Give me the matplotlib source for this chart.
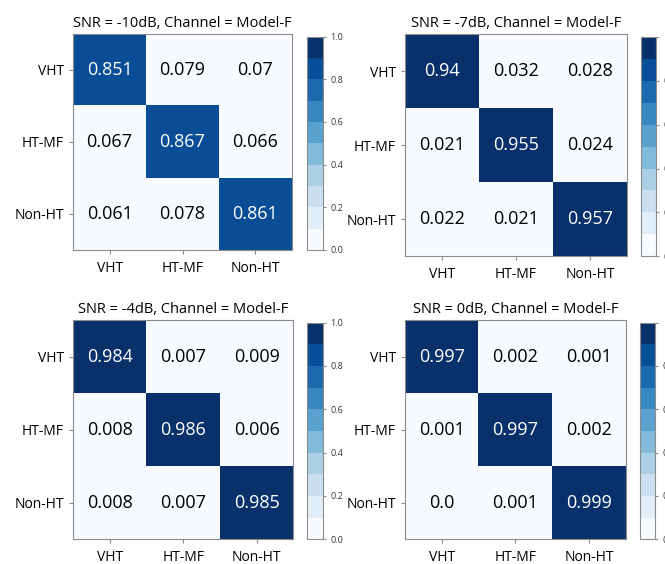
import numpy as np
import matplotlib
matplotlib.use('Agg')
import matplotlib.pyplot as plt

plt.rcParams['font.family'] = ['Open Sans', 'DejaVu Sans']

# class labels and confusion matrices
labels = ['VHT', 'HT-MF', 'Non-HT']
snr_titles = ['SNR = -10dB, Channel = Model-F', 'SNR = -7dB, Channel = Model-F',
              'SNR = -4dB, Channel = Model-F', 'SNR = 0dB, Channel = Model-F']

cm_m10 = [[0.851, 0.079, 0.07],
          [0.067, 0.867, 0.066],
          [0.061, 0.078, 0.861]]
cm_m7 = [[0.94, 0.032, 0.028],
         [0.021, 0.955, 0.024],
         [0.022, 0.021, 0.957]]
cm_m4 = [[0.984, 0.007, 0.009],
         [0.008, 0.986, 0.006],
         [0.008, 0.007, 0.985]]
cm_0 = [[0.997, 0.002, 0.001],
        [0.001, 0.997, 0.002],
        [0.0, 0.001, 0.999]]
matrices = [cm_m10, cm_m7, cm_m4, cm_0]

# axes boxes in figure fractions: [left, bottom, width, height]
ax_boxes = [[0.110, 0.557, 0.329, 0.383],
            [0.609, 0.546, 0.334, 0.393],
            [0.110, 0.044, 0.331, 0.388],
            [0.609, 0.044, 0.332, 0.388]]
cb_boxes = [[0.462, 0.557, 0.023, 0.378],
            [0.964, 0.546, 0.023, 0.388],
            [0.462, 0.044, 0.023, 0.384],
            [0.962, 0.044, 0.023, 0.384]]

cmap = plt.get_cmap('Blues', 10)
edge = '#8c8c8c'

fig = plt.figure(figsize=(6.65, 5.64), dpi=100)

for cm, title, box, cbox in zip(matrices, snr_titles, ax_boxes, cb_boxes):
    cm = np.array(cm)
    ax = fig.add_axes(box)
    im = ax.imshow(cm, cmap=cmap, vmin=0, vmax=1, aspect='auto')
    for i in range(3):
        for j in range(3):
            v = cm[i, j]
            ax.text(j, i, str(v), ha='center', va='center', fontsize=13,
                    color='white' if v > 0.5 else 'black')
    ax.set_xticks(range(3))
    ax.set_yticks(range(3))
    ax.set_xticklabels(labels, fontsize=10)
    ax.set_yticklabels(labels, fontsize=10)
    ax.tick_params(colors=edge, labelcolor='black', length=3, width=0.8)
    ax.tick_params(axis='x', pad=5)
    for s in ax.spines.values():
        s.set_color(edge)
        s.set_linewidth(0.8)
    ax.set_title(title, fontsize=10.5, pad=5)

    cax = fig.add_axes(cbox)
    cb = fig.colorbar(im, cax=cax, ticks=[0, 0.2, 0.4, 0.6, 0.8, 1.0])
    cb.ax.tick_params(labelsize=6.5, length=2, colors=edge, labelcolor='#333333')
    cb.outline.set_edgecolor(edge)
    cb.outline.set_linewidth(0.8)

fig.savefig('out.png', dpi=100)
